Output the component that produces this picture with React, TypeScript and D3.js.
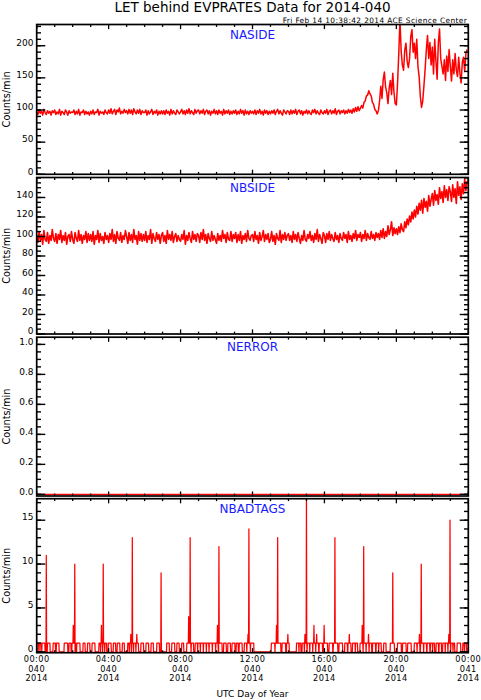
import React from 'react';
import * as d3 from 'd3';

// ---------------- DATA ----------------
const titleText = 'LET behind EVPRATES Data for 2014-040';
const subtitleText = 'Fri Feb 14 10:38:42 2014 ACE Science Center';
const panelNames = ['NASIDE', 'NBSIDE', 'NERROR', 'NBADTAGS'];
const yAxisTitle = 'Counts/min';
const xAxisTitle = 'UTC Day of Year';

const hourTickLabels = ['00:00', '04:00', '08:00', '12:00', '16:00', '20:00', '00:00'];
const dayTickLabels = ['040', '040', '040', '040', '040', '040', '041'];
const yearTickLabels = ['2014', '2014', '2014', '2014', '2014', '2014', '2014'];
const hourTickMinutes = [0, 240, 480, 720, 960, 1200, 1440];

const nasideTicks = [0, 50, 100, 150, 200];
const nbsideTicks = [0, 20, 40, 60, 80, 100, 120, 140];
const nerrorTicks = [0, 0.2, 0.4, 0.6, 0.8, 1.0];
const nbadtagsTicks = [0, 5, 10, 15];

// sample cadence in minutes for NASIDE / NBSIDE
const sampleMinutes = 4;

// NASIDE counts/min, one row per hour (4-min samples)
const nasideValues = [
  97, 93, 100, 95, 98, 92, 101, 96, 93, 99, 95, 98, 92, 99, 96,
  100, 93, 97, 94, 101, 92, 98, 96, 93, 100, 97, 92, 99, 95, 97,
  96, 100, 93, 98, 94, 101, 92, 97, 96, 100, 93, 98, 94, 97, 92,
  98, 94, 100, 93, 97, 96, 101, 92, 98, 95, 97, 93, 100, 96, 94,
  100, 95, 102, 94, 98, 101, 93, 100, 97, 103, 94, 98, 95, 101, 96,
  99, 94, 101, 95, 100, 93, 102, 97, 94, 100, 95, 101, 93, 99, 96,
  96, 100, 92, 99, 94, 97, 101, 93, 98, 95, 100, 92, 98, 94, 99,
  94, 99, 93, 100, 95, 98, 92, 101, 94, 99, 95, 93, 100, 97, 94,
  97, 101, 94, 99, 93, 100, 95, 102, 94, 99, 96, 93, 101, 95, 99,
  100, 94, 99, 95, 101, 93, 98, 100, 94, 99, 92, 98, 95, 101, 94,
  99, 93, 100, 95, 98, 92, 101, 94, 99, 95, 100, 93, 98, 94, 99,
  95, 100, 93, 98, 94, 101, 95, 99, 92, 100, 94, 98, 93, 99, 95,
  98, 94, 100, 93, 99, 95, 101, 94, 98, 92, 100, 95, 99, 93, 98,
  94, 99, 95, 100, 93, 98, 101, 94, 99, 95, 92, 100, 97, 94, 99,
  98, 93, 100, 94, 99, 95, 101, 93, 98, 100, 94, 99, 92, 98, 95,
  100, 94, 99, 95, 93, 100, 96, 101, 94, 99, 95, 93, 100, 96, 94,
  99, 95, 101, 93, 98, 100, 94, 99, 95, 102, 93, 98, 100, 94, 99,
  96, 100, 94, 99, 95, 101, 96, 100, 95, 102, 97, 104, 98, 105, 99,
  103, 107, 103, 112, 114, 122, 123, 130, 125, 122, 112, 109, 101, 99, 94,
  99, 114, 137, 118, 147, 159, 136, 127, 110, 134, 146, 124, 157, 128, 110,
  108, 142, 188, 240, 192, 170, 162, 193, 204, 176, 166, 180, 214, 225, 190,
  204, 180, 210, 168, 152, 121, 104, 114, 138, 164, 194, 216, 180, 205, 170,
  198, 156, 210, 176, 148, 204, 226, 180, 168, 156, 178, 146, 184, 160, 194,
  168, 145, 178, 156, 188, 162, 152, 182, 157, 142, 174, 182, 160, 188, 194,
];

// NBSIDE counts/min, one row per hour (4-min samples)
const nbsideValues = [
  101, 94, 105, 96, 102, 92, 106, 97, 95, 104, 93, 101, 96, 107, 98,
  95, 103, 93, 102, 97, 106, 94, 101, 96, 104, 92, 100, 102, 95, 105,
  97, 93, 104, 98, 95, 106, 96, 102, 93, 101, 97, 105, 94, 103, 96,
  102, 95, 105, 92, 101, 97, 106, 94, 103, 96, 100, 93, 104, 97, 101,
  94, 103, 97, 107, 95, 102, 93, 105, 98, 96, 104, 94, 101, 97, 106,
  100, 93, 104, 96, 102, 94, 107, 97, 101, 92, 105, 96, 103, 95, 102,
  96, 105, 94, 101, 97, 107, 93, 103, 98, 95, 104, 97, 102, 93, 101,
  104, 95, 101, 93, 106, 97, 102, 96, 105, 94, 100, 103, 95, 101, 97,
  95, 102, 97, 106, 92, 101, 96, 104, 98, 94, 105, 97, 102, 95, 103,
  101, 94, 104, 97, 107, 96, 102, 93, 103, 98, 95, 105, 96, 101, 97,
  93, 103, 96, 101, 95, 106, 98, 102, 94, 104, 97, 96, 105, 95, 102,
  98, 104, 94, 102, 96, 105, 93, 101, 97, 103, 95, 106, 98, 96, 101,
  102, 95, 105, 97, 101, 93, 104, 96, 100, 106, 95, 102, 97, 103, 94,
  97, 105, 95, 101, 92, 103, 98, 96, 106, 94, 102, 97, 104, 96, 101,
  103, 96, 101, 94, 105, 97, 102, 95, 104, 98, 93, 101, 96, 106, 97,
  95, 102, 98, 105, 96, 101, 94, 103, 97, 107, 95, 102, 98, 93, 104,
  101, 94, 103, 97, 105, 96, 102, 98, 95, 104, 97, 101, 94, 103, 98,
  96, 104, 98, 102, 94, 105, 97, 101, 95, 103, 98, 106, 96, 102, 99,
  104, 95, 102, 98, 106, 96, 103, 99, 97, 105, 98, 102, 96, 104, 99,
  103, 97, 106, 99, 108, 98, 105, 100, 111, 102, 107, 115, 101, 109, 103,
  108, 102, 110, 104, 113, 107, 105, 115, 109, 118, 112, 121, 115, 125, 118,
  127, 120, 131, 123, 134, 127, 137, 124, 139, 130, 136, 126, 142, 131, 138,
  144, 132, 147, 137, 143, 133, 150, 139, 146, 135, 152, 140, 148, 137, 151,
  146, 136, 153, 140, 149, 134, 156, 142, 151, 138, 154, 144, 159, 147, 157,
];

// NERROR: zero for the whole day
const nerrorMinutes = [0, 1440];
const nerrorValues = [0, 0];

// NBADTAGS: minute ranges [start, end] where the count is 1
const nbadtagsOneRuns: [number, number][] = [
  [0, 4], [6, 10], [12, 16], [18, 27], [36, 44], [55, 62], [66, 74], [92, 103], [108, 114],
  [118, 121], [123, 127], [129, 131], [134, 144], [155, 161], [170, 177], [185, 194],
  [208, 212], [214, 219], [221, 226], [228, 233], [239, 248], [256, 263], [269, 277],
  [286, 292], [304, 308], [310, 315], [317, 322], [324, 330], [332, 339], [348, 356],
  [365, 373], [382, 389], [401, 409], [434, 442], [451, 460], [468, 475], [484, 490],
  [501, 506], [508, 514], [516, 523], [529, 536], [538, 545], [547, 555], [557, 565],
  [567, 574], [576, 585], [587, 596], [598, 605], [609, 618], [624, 632], [638, 646],
  [652, 661], [666, 672], [676, 685], [693, 700], [702, 712], [714, 724], [783, 794],
  [796, 803], [805, 814], [819, 830], [834, 842], [867, 874], [876, 881], [886, 892],
  [894, 901], [903, 910], [912, 920], [922, 930], [932, 940], [943, 953], [957, 970],
  [976, 987], [990, 1004], [1009, 1020], [1028, 1036], [1039, 1048], [1054, 1062],
  [1064, 1070], [1079, 1088], [1090, 1098], [1100, 1108], [1110, 1117], [1121, 1130],
  [1133, 1140], [1142, 1149], [1158, 1165], [1180, 1193], [1204, 1216], [1221, 1232],
  [1238, 1249], [1260, 1268], [1270, 1278], [1281, 1290], [1292, 1300], [1303, 1311],
  [1314, 1320], [1322, 1327], [1333, 1340], [1343, 1350], [1355, 1362], [1364, 1371],
  [1373, 1380], [1382, 1388], [1390, 1394], [1403, 1414], [1422, 1426], [1428, 1433],
  [1435, 1439],
];
// NBADTAGS: single-minute counts above 1 [minute, count]
const nbadtagsSpikes: [number, number][] = [
  [32, 11], [122, 3], [127, 10], [216, 3], [222, 10], [314, 2], [319, 13], [334, 2],
  [415, 9], [507, 4], [512, 13], [603, 3], [608, 12], [705, 2], [708, 14], [800, 3],
  [804, 13], [838, 2], [895, 2], [900, 18], [925, 3], [934, 2], [959, 3], [995, 13],
  [1043, 2], [1086, 3], [1091, 12], [1107, 2], [1188, 9], [1277, 2], [1283, 10],
  [1375, 2], [1379, 15],
];

// ---------------- LAYOUT ----------------
const W = 481;
const H = 700;
const X0 = 36.7;
const X1 = 468.3;
const FONT = 'DejaVu Sans';
const RED = '#ff0000';
const BLUE = '#1a1aff';

type Pt = [number, number];

function buildBadtags(): Pt[] {
  const vals = new Array(1440).fill(0);
  nbadtagsOneRuns.forEach(([s, e]) => {
    for (let m = s; m <= e; m++) vals[m] = 1;
  });
  nbadtagsSpikes.forEach(([m, v]) => {
    vals[m] = v;
  });
  return vals.map((v, i) => [i, v] as Pt);
}

const panels = [
  {
    name: panelNames[0], top: 24.5, bottom: 174.3, domain: [0, 233], sw: 1.5,
    ticks: nasideTicks, minorStep: 10, fmt: (d: number) => String(d),
    data: nasideValues.map((v, i) => [i * sampleMinutes, v] as Pt),
  },
  {
    name: panelNames[1], top: 177.5, bottom: 334, domain: [0, 160.5], sw: 1.6,
    ticks: nbsideTicks, minorStep: 5, fmt: (d: number) => String(d),
    data: nbsideValues.map((v, i) => [i * sampleMinutes, v] as Pt),
  },
  {
    name: panelNames[2], top: 337.2, bottom: 496, domain: [-0.011, 1.048], sw: 1.4,
    ticks: nerrorTicks, minorStep: 0.05, fmt: (d: number) => d.toFixed(1),
    data: nerrorMinutes.map((m, i) => [m, nerrorValues[i]] as Pt),
  },
  {
    name: panelNames[3], top: 498.7, bottom: 652.7, domain: [-0.1, 17.45], sw: 1.25,
    ticks: nbadtagsTicks, minorStep: 1, fmt: (d: number) => String(d),
    data: buildBadtags(),
  },
];

export default function App() {
  const x = d3.scaleLinear().domain([0, 1440]).range([X0, X1]);
  const minorX = d3.range(0, 1441, 60);

  return (
    <svg
      width={W}
      height={H}
      viewBox={`0 0 ${W} ${H}`}
      style={{ position: 'absolute', left: 0, top: 0, background: '#fff' }}
      fontFamily={FONT}
    >
      <defs>
        {panels.map((p, i) => (
          <clipPath id={`clip${i}`} key={i}>
            <rect x={X0} y={p.top} width={X1 - X0} height={p.bottom - p.top} />
          </clipPath>
        ))}
      </defs>

      <text x={(X0 + X1) / 2} y={11.8} textAnchor="middle" fontSize={13.5} fill="#000">
        {titleText}
      </text>
      <text x={466.7} y={22.6} textAnchor="end" fontSize={7.4} fill="#000" textLength={184} lengthAdjust="spacing">
        {subtitleText}
      </text>

      {panels.map((p, i) => {
        const y = d3.scaleLinear().domain(p.domain).range([p.bottom, p.top]);
        const line = d3
          .line<Pt>()
          .x((d) => x(d[0]))
          .y((d) => y(d[1]));
        const lo = Math.ceil(p.domain[0] / p.minorStep - 1e-9);
        const hi = Math.floor(p.domain[1] / p.minorStep + 1e-9);
        const minorY = d3.range(lo, hi + 1).map((k) => +(k * p.minorStep).toFixed(4));
        const cy = (p.top + p.bottom) / 2;
        return (
          <g key={i}>
            <path
              d={line(p.data) || ''}
              fill="none"
              stroke={RED}
              strokeWidth={p.sw}
              strokeLinejoin="round"
              clipPath={`url(#clip${i})`}
            />
            {/* y minor ticks */}
            {minorY.map((v, k) => (
              <g key={`ym${k}`} stroke="#000" strokeWidth={1.4}>
                <line x1={X0} x2={X0 + 4.3} y1={y(v)} y2={y(v)} />
                <line x1={X1} x2={X1 - 4.3} y1={y(v)} y2={y(v)} />
              </g>
            ))}
            {/* y major ticks + labels */}
            {p.ticks.map((v, k) => (
              <g key={`yM${k}`}>
                <line x1={X0} x2={X0 + 8.6} y1={y(v)} y2={y(v)} stroke="#000" strokeWidth={1.4} />
                <line x1={X1} x2={X1 - 8.6} y1={y(v)} y2={y(v)} stroke="#000" strokeWidth={1.4} />
                <text x={33.5} y={y(v) + 0.2} textAnchor="end" fontSize={9} fill="#000">
                  {p.fmt(v)}
                </text>
              </g>
            ))}
            {/* x ticks top and bottom */}
            {minorX.map((m, k) => {
              const major = m % 240 === 0;
              const len = major ? 4.6 : 2.4;
              return (
                <g key={`x${k}`} stroke="#000" strokeWidth={1.3}>
                  <line x1={x(m)} x2={x(m)} y1={p.bottom} y2={p.bottom - len} />
                  <line x1={x(m)} x2={x(m)} y1={p.top} y2={p.top + len} />
                </g>
              );
            })}
            <rect
              x={X0}
              y={p.top}
              width={X1 - X0}
              height={p.bottom - p.top}
              fill="none"
              stroke="#000"
              strokeWidth={1.7}
            />
            <text x={(X0 + X1) / 2} y={p.top + 14} textAnchor="middle" fontSize={12} fill={BLUE}>
              {p.name}
            </text>
            <text
              x={10}
              y={cy}
              transform={`rotate(-90 10 ${cy})`}
              textAnchor="middle"
              fontSize={9.8}
              fill="#000"
            >
              {yAxisTitle}
            </text>
          </g>
        );
      })}

      {hourTickMinutes.map((m, k) => (
        <g key={`xl${k}`} fontSize={8.2} fill="#000" textAnchor="middle" letterSpacing={0.45}>
          <text x={x(m)} y={661.9}>{hourTickLabels[k]}</text>
          <text x={x(m)} y={671.5}>{dayTickLabels[k]}</text>
          <text x={x(m)} y={681.1}>{yearTickLabels[k]}</text>
        </g>
      ))}

      <text x={(X0 + X1) / 2} y={696.6} textAnchor="middle" fontSize={9} fill="#000">
        {xAxisTitle}
      </text>
    </svg>
  );
}
